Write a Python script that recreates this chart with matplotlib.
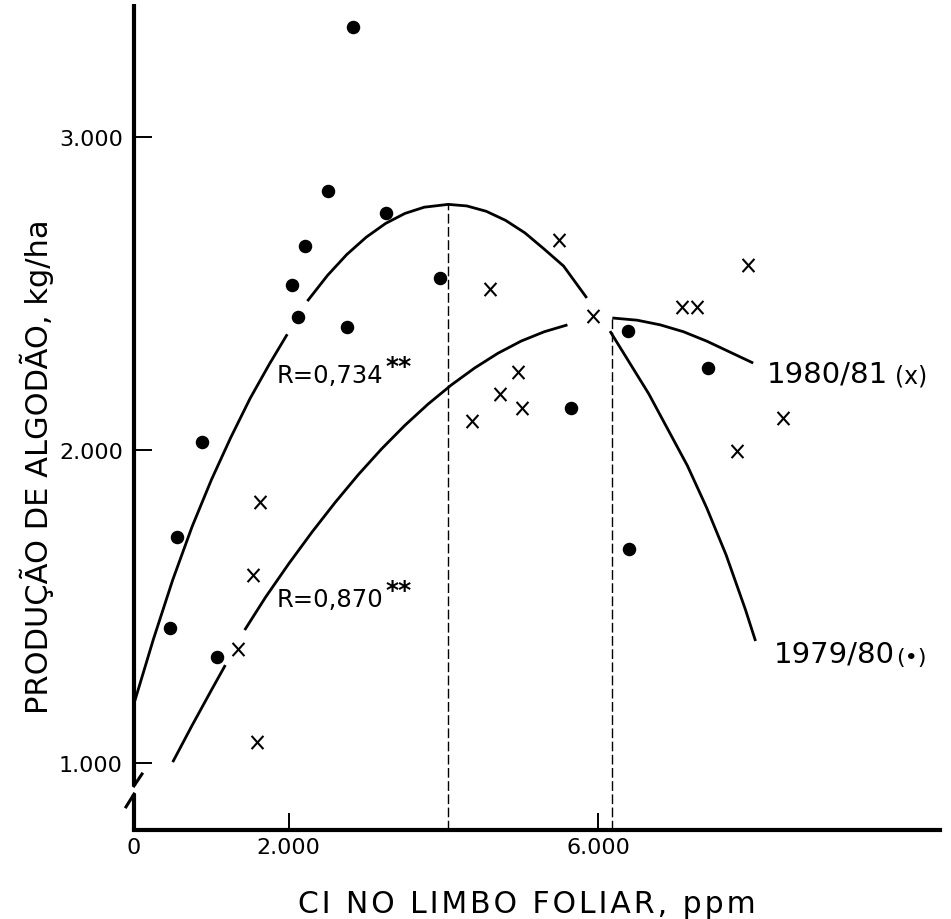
import numpy as np
import matplotlib
matplotlib.use('Agg')
import matplotlib.pyplot as plt
from matplotlib.path import Path

plt.rcParams['font.family'] = ['DejaVu Sans']

# ---------------- data ----------------
# 1979/80 observations (dots)
cl_7980 = [2829, 2506, 3256, 2209, 2041, 2119, 2752, 3953, 879, 556, 465, 1072,
           5646, 6382, 7416, 6395]
prod_7980 = [3351, 2827, 2757, 2652, 2527, 2425, 2393, 2550, 2026, 1722, 1431, 1339,
             2134, 2380, 2262, 1684]

# 1980/81 observations (x)
cl_8081 = [1628, 1537, 1344, 1589, 4367, 4729, 4961, 5013, 4599, 5491, 5930, 7080,
           7274, 7933, 8385, 7791]
prod_8081 = [1834, 1601, 1364, 1067, 2093, 2179, 2249, 2134, 2514, 2671, 2428, 2457,
             2457, 2591, 2102, 1997]

# fitted curve 1979/80 (R=0,734**), drawn in pieces
fit7980_x1 = [0, 250, 500, 750, 1000, 1250, 1500, 1750, 1980]
fit7980_y1 = [1190, 1395, 1585, 1755, 1905, 2040, 2165, 2275, 2370]
fit7980_x2 = [2240, 2500, 2750, 3000, 3250, 3500, 3750, 4060, 4300, 4550, 4800,
              5050, 5300, 5550, 5850]
fit7980_y2 = [2476, 2558, 2625, 2680, 2724, 2756, 2776, 2785, 2780, 2763, 2734,
              2694, 2642, 2588, 2486]
fit7980_x3 = [6150, 6400, 6650, 6900, 7150, 7400, 7650, 7900, 8030]
fit7980_y3 = [2380, 2280, 2180, 2065, 1950, 1815, 1665, 1490, 1390]

# fitted curve 1980/81 (R=0,870**), drawn in pieces
fit8081_x1 = [500, 750, 1000, 1180]
fit8081_y1 = [1003, 1120, 1233, 1313]
fit8081_x2 = [1430, 1700, 2000, 2300, 2600, 2900, 3200, 3500, 3800, 4100, 4400,
              4700, 5000, 5300, 5600]
fit8081_y2 = [1425, 1530, 1637, 1738, 1833, 1922, 2004, 2079, 2147, 2208, 2262,
              2309, 2348, 2378, 2400]
fit8081_x3 = [6180, 6500, 6800, 7100, 7400, 7700, 8000]
fit8081_y3 = [2422, 2415, 2400, 2378, 2348, 2313, 2278]

# optimum Cl levels (dashed verticals)
opt_cl = [4060, 6180]
opt_prod = [2785, 2422]

xticks = [0, 2000, 6000]
xticklabels = ['0', '2.000', '6.000']
yticks = [1000, 2000, 3000]
yticklabels = ['1.000', '2.000', '3.000']

xlim = (0, 10413)
ylim = (786, 3425)

xlabel = 'CI NO LIMBO FOLIAR, ppm'
ylabel = 'PRODUÇÃO DE ALGODÃO, kg/ha'


def tracked(s, sep='\u200a'):
    return sep.join(list(s))


# ---------------- figure ----------------
fig = plt.figure(figsize=(9.51, 9.20), dpi=100)
ax = fig.add_axes([0.1409, 0.0967, 0.8475, 0.8978])
ax.set_xlim(*xlim)
ax.set_ylim(*ylim)

for s in ['top', 'right', 'left']:
    ax.spines[s].set_visible(False)
ax.spines['bottom'].set_linewidth(3.0)

# broken y axis drawn by hand
ytr = ax.get_yaxis_transform()
ax.plot([0, 0], [ylim[1], 927], color='black', lw=3.0, transform=ytr,
        clip_on=False, solid_capstyle='butt')
ax.plot([0, 0.0099], [927, 965], color='black', lw=2.2, transform=ytr, clip_on=False)
ax.plot([0, 0], [901, ylim[0]], color='black', lw=3.0, transform=ytr,
        clip_on=False, solid_capstyle='butt')
ax.plot([0, -0.0099], [901, 860], color='black', lw=2.2, transform=ytr, clip_on=False)

ax.set_xticks(xticks)
ax.set_xticklabels(xticklabels, fontsize=16)
ax.set_yticks(yticks)
ax.set_yticklabels(yticklabels, fontsize=16)
ax.tick_params(axis='y', direction='in', length=13, width=1.4, pad=8)
ax.tick_params(axis='x', direction='in', length=12, width=1.4, pad=5)
ax.xaxis.get_major_ticks()[0].tick1line.set_visible(False)

# curves
for xs, ys in [(fit7980_x1, fit7980_y1), (fit7980_x2, fit7980_y2), (fit7980_x3, fit7980_y3),
               (fit8081_x1, fit8081_y1), (fit8081_x2, fit8081_y2), (fit8081_x3, fit8081_y3)]:
    ax.plot(xs, ys, color='black', lw=2.0, solid_capstyle='butt')

# dashed optimum lines
for xo, yo in zip(opt_cl, opt_prod):
    ax.plot([xo, xo], [ylim[0], yo], color='black', lw=1.0, ls=(0, (7, 2.5)))

# markers
xmark = Path([(-0.9, -1), (0.9, 1), (-0.9, 1), (0.9, -1)],
             [Path.MOVETO, Path.LINETO, Path.MOVETO, Path.LINETO])
ax.plot(cl_7980, prod_7980, ls='none', marker='o', ms=8.7, color='black')
ax.plot(cl_8081, prod_8081, ls='none', marker=xmark, ms=9.5, mew=1.5,
        color='black', mfc='none')

# annotations
t1 = ax.text(1848, 2217, 'R=0,734', fontsize=17.5, ha='left', va='baseline')
ax.annotate('**', xy=(1.0, 1.0), xycoords=t1, xytext=(1, -2), textcoords='offset points',
            ha='left', va='center', fontsize=18, fontweight='bold')
t2 = ax.text(1848, 1502, 'R=0,870', fontsize=17.5, ha='left', va='baseline')
ax.annotate('**', xy=(1.0, 1.0), xycoords=t2, xytext=(1, -2), textcoords='offset points',
            ha='left', va='center', fontsize=18, fontweight='bold')

t3 = ax.text(8178, 2220, '1980/81', fontsize=21, ha='left', va='baseline')
ax.annotate('(x)', xy=(1.0, 0.0), xycoords=t3, xytext=(5, 0), textcoords='offset points',
            ha='left', va='bottom', fontsize=17)
t4 = ax.text(8269, 1323, '1979/80', fontsize=21, ha='left', va='baseline')
ax.annotate('(•)', xy=(1.0, 0.0), xycoords=t4, xytext=(1, 1), textcoords='offset points',
            ha='left', va='bottom', fontsize=16)

# axis titles
fig.text(527 / 951, 1 - 913 / 920, tracked(xlabel), fontsize=21.5,
         ha='center', va='baseline')
fig.text(37 / 951, 1 - 467 / 920, ylabel, fontsize=22,
         rotation=90, ha='center', va='center')

fig.savefig('out.png', dpi=100)
